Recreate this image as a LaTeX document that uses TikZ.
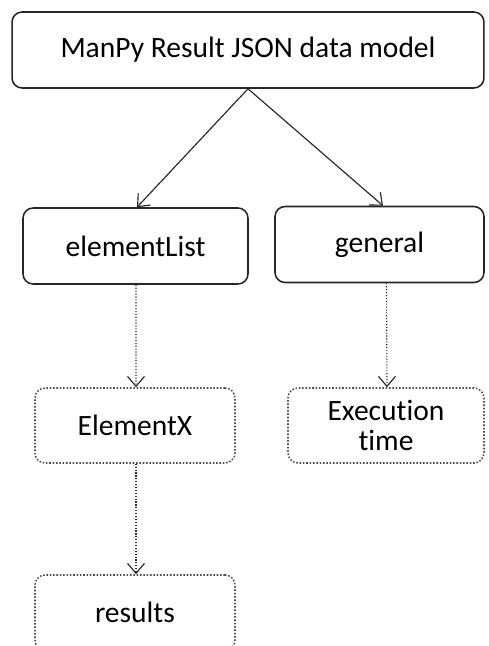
\documentclass[tikz,border=0pt]{standalone}
\usepackage{fontspec}
\setmainfont[Ligatures=CommonOff]{Carlito}
\usepackage{tikz}
\usetikzlibrary{shapes.geometric, arrows.meta, positioning, calc}
\tikzstyle{solidbox} = [rectangle, rounded corners=0.2cm, line width=0.9pt, draw=black!85, text centered, minimum height=1.52cm]
\tikzstyle{dotbox} = [rectangle, rounded corners=0.2cm, line width=0.9pt, densely dotted, draw=black!70, text centered, minimum height=1.5cm, align=center]
\tikzstyle{arrow} = [line width=0.65pt, draw=black!85, -{Straight Barb[length=2mm,width=3.4mm]}]
\tikzstyle{dotarrow} = [arrow, densely dotted]

\begin{document}
\begin{tikzpicture}[x=0.02cm, y=-0.02cm, font=\fontsize{16.8}{19}\selectfont]
		\useasboundingbox (0,0) rectangle (488,646);
		\clip (0,0) rectangle (488,646);
		
		\node (model) [solidbox, minimum width=9.44cm] at (248,50) {ManPy Result JSON data model};
		
		\node (elist) [solidbox, minimum width=4.5cm] at (135.5,246) {elementList};
		
		\node (gen) [solidbox, minimum width=4.18cm] at (379.5,244.5) {general};
		
		\node (elemx) [dotbox, minimum width=4cm] at (135,425.5) {ElementX};
		
		\node (exectime) [dotbox, minimum width=3.92cm] at (386,425.5) {Execution\\[-2pt] time};
		
		\node (res) [dotbox, minimum width=4cm] at (135,612.5) {results};
		
		\draw [arrow] (model.south) -- ([xshift=0.03cm]elist.north);
		\draw [arrow] (model.south) -- ([xshift=0.07cm]gen.north);
		\draw [dotarrow] ([xshift=0.01cm]elist.south) -- ([xshift=0.02cm]elemx.north);
		\draw [dotarrow] ([xshift=0.14cm]gen.south) -- ([xshift=0.02cm]exectime.north);
		\draw [dotarrow] ([xshift=0.02cm]elemx.south) -- ([xshift=0.02cm]res.north);
\end{tikzpicture}
\end{document}
